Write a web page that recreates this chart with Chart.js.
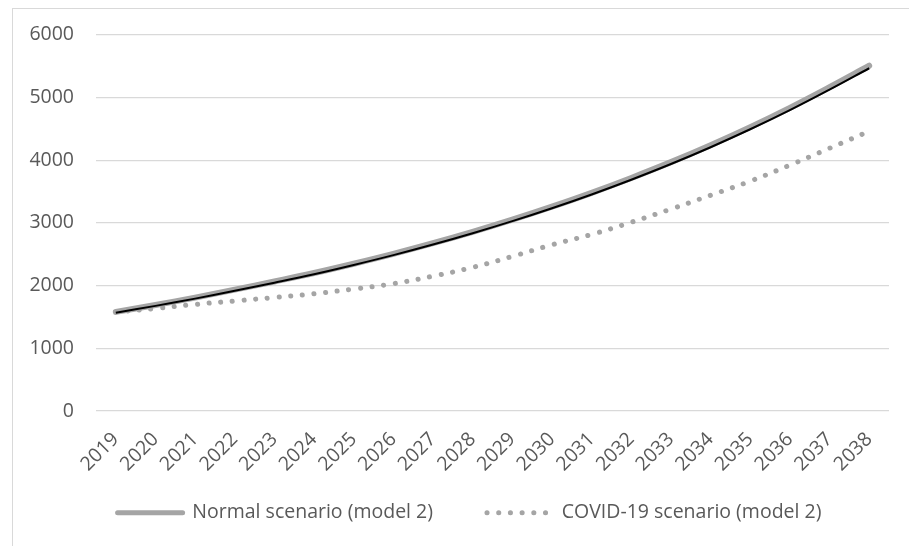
<!DOCTYPE html>
<html>
<head>
<meta charset="utf-8">
<script src="https://cdn.jsdelivr.net/npm/chart.js@4.4.1/dist/chart.umd.min.js"></script>
<style>
  html, body { margin: 0; padding: 0; background: #fff; overflow: hidden; width: 909px; height: 546px; }
  #frame { position: absolute; left: 12px; top: 8px; width: 911px; height: 546px; overflow: hidden;
           border-left: 1px solid #d9d9d9; border-top: 1px solid #d9d9d9; box-sizing: border-box; }
  #frame canvas { position: absolute; left: -1px; top: -8px; }
</style>
</head>
<body>
<div id="frame"><canvas id="chart"></canvas></div>
<script>
const years = ['2019', '2020', '2021', '2022', '2023', '2024', '2025', '2026', '2027', '2028',
               '2029', '2030', '2031', '2032', '2033', '2034', '2035', '2036', '2037', '2038'];

// Normal scenario (model 2) - thick grey line
const normalScenario = [1580, 1690, 1808, 1935, 2065, 2200, 2348, 2505, 2675, 2856,
                        3050, 3258, 3479, 3716, 3968, 4238, 4526, 4834, 5163, 5505];

// thin black line drawn over the grey one (not in legend)
const normalTrend = [1568, 1676, 1792, 1916, 2045, 2180, 2328, 2485, 2654, 2834,
                     3027, 3233, 3453, 3688, 3938, 4206, 4492, 4797, 5124, 5465];

// COVID-19 scenario (model 2) - dotted grey line
const covidScenario = [1580, 1635, 1700, 1755, 1810, 1870, 1945, 2030, 2150, 2290,
                       2465, 2650, 2815, 3010, 3220, 3440, 3665, 3920, 4190, 4460];

const yTicks = [0, 1000, 2000, 3000, 4000, 5000, 6000];

const grey = '#a5a5a5';
const textColor = '#595959';
const font = { family: '"Open Sans", sans-serif', size: 19.5 };

const canvas = document.getElementById('chart');
canvas.width = 912;
canvas.height = 554;

// fixed legend height, and legend row drawn a bit higher / further right than Chart.js puts it
const legendBox = {
    id: 'legendBox',
    afterInit(chart) {
        const legend = chart.legend;
        const fit = legend.fit;
        legend.fit = function () {
            fit.call(this);
            this.height = 80;
        };
        const draw = legend.draw;
        legend.draw = function () {
            const top = this.top, left = this.left, right = this.right;
            this.top = top - 26;
            this.left = left + 19;
            this.right = right + 19;
            draw.call(this);
            this.top = top;
            this.left = left;
            this.right = right;
        };
    }
};

new Chart(canvas, {
    type: 'line',
    data: {
        labels: years,
        datasets: [
            {
                label: 'Normal scenario (model 2)',
                data: normalScenario,
                borderColor: grey,
                backgroundColor: grey,
                borderWidth: 6,
                borderCapStyle: 'round',
                pointRadius: 0,
                tension: 0.4,
                order: 3
            },
            {
                label: 'trend',
                data: normalTrend,
                borderColor: '#000000',
                backgroundColor: '#000000',
                borderWidth: 2,
                pointRadius: 0,
                tension: 0.4,
                order: 1
            },
            {
                label: 'COVID-19 scenario (model 2)',
                data: covidScenario,
                borderColor: grey,
                backgroundColor: grey,
                borderWidth: 5,
                borderDash: [0.1, 11.6],
                borderCapStyle: 'round',
                pointRadius: 0,
                tension: 0.4,
                order: 2
            }
        ]
    },
    options: {
        responsive: false,
        animation: false,
        layout: { padding: { top: 21, right: 35, bottom: 0, left: 0 } },
        plugins: {
            tooltip: { enabled: false },
            legend: {
                position: 'bottom',
                labels: {
                    color: textColor,
                    font: font,
                    usePointStyle: true,
                    pointStyle: 'line',
                    pointStyleWidth: 65,
                    padding: 54,
                    sort: (a, b) => a.datasetIndex - b.datasetIndex,
                    generateLabels: chart => {
                        const items = Chart.defaults.plugins.legend.labels.generateLabels(chart);
                        items.forEach(it => {
                            const ds = chart.data.datasets[it.datasetIndex];
                            it.lineDash = ds.borderDash || [];
                            it.lineCap = ds.borderCapStyle || 'butt';
                            it.lineWidth = 5;
                        });
                        return items.filter(it => it.text !== 'trend');
                    }
                }
            }
        },
        scales: {
            x: {
                offset: true,
                grid: { display: false, drawTicks: false },
                border: { display: false },
                afterFit: scale => { scale.height = 64; },
                ticks: {
                    color: textColor,
                    font: font,
                    minRotation: 45,
                    maxRotation: 45,
                    padding: 17,
                    autoSkip: false
                }
            },
            y: {
                min: 0,
                max: 6000,
                afterFit: scale => { scale.width = 84; },
                afterBuildTicks: scale => { scale.ticks = yTicks.map(v => ({ value: v })); },
                grid: { color: '#d9d9d9', lineWidth: 1.2, drawTicks: false },
                border: { display: false },
                ticks: {
                    color: textColor,
                    font: font,
                    padding: 22,
                    callback: v => String(v)
                }
            }
        }
    },
    plugins: [legendBox]
});
</script>
</body>
</html>
